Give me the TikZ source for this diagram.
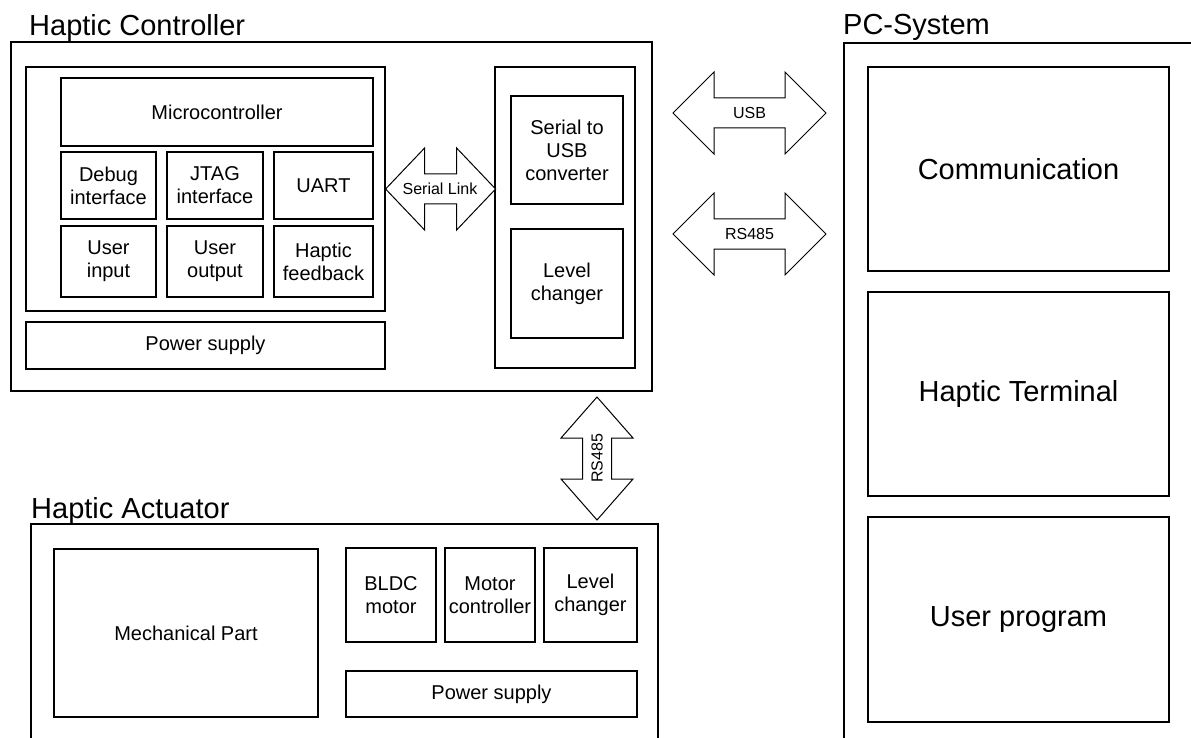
\documentclass[tikz,border=0pt]{standalone}
\usepackage{fontspec}
\setmainfont{Liberation Sans}
\usepackage{tikz}
\usetikzlibrary{positioning}
\newcommand{\fbig}{\fontsize{29}{33}\selectfont}
\newcommand{\fmid}{\fontsize{20}{23}\selectfont}
\newcommand{\fsml}{\fontsize{16}{18}\selectfont}

\begin{document}
\begin{tikzpicture}[x=1pt,y=-1pt,
  blk/.style={draw,line width=1.2pt,inner sep=0pt,align=center,font=\fmid},
  big/.style={blk,font=\fbig},
  grp/.style={draw,line width=1.2pt,inner sep=0pt},
  ttl/.style={anchor=base west,inner sep=0pt,font=\fbig},
  link/.style={draw,line width=1pt,fill=white,line join=miter},
  lbl/.style={inner sep=0pt,font=\fsml}]
  \useasboundingbox (0,0) rectangle (1191,738);

  % haptic controller
  \node[ttl] (hcttl) at (29,36) {Haptic Controller};
  \node[grp,minimum width=641pt,minimum height=349pt] (hc) at (331.5,216.5) {};
  \node[grp,minimum width=359pt,minimum height=244pt] (cpu) at (205.5,189) {};
  \node[blk,minimum width=312pt,minimum height=68pt] (mcu) at (217,112) {Microcontroller};
  \node[blk,minimum width=95pt,minimum height=67pt] (dbg) at (108.5,185.5) {Debug\\interface};
  \node[blk,minimum width=96pt,minimum height=67pt] (jtag) at (215,185.5) {JTAG\\interface};
  \node[blk,minimum width=99pt,minimum height=67pt] (uart) at (323.5,185.5) {UART};
  \node[blk,minimum width=95pt,minimum height=71pt] (uin) at (108.5,261.5) {User\\input};
  \node[blk,minimum width=96pt,minimum height=71pt] (uout) at (215,261.5) {User\\output};
  \node[blk,minimum width=99pt,minimum height=71pt] (hfb) at (323.5,261.5) {Haptic\\feedback};
  \node[blk,minimum width=359pt,minimum height=47pt] (psc) at (205.5,345.5) {Power supply};
  \node[grp,minimum width=140pt,minimum height=301pt] (conv) at (565,217.5) {};
  \node[blk,minimum width=112pt,minimum height=108pt] (s2u) at (567,150) {Serial to\\USB\\converter};
  \node[blk,minimum width=112pt,minimum height=109pt] (lvlc) at (567,283.5) {Level\\changer};

  % serial link between the two groups
  \draw[link] (cpu.east) -- ++(39,-41) -- ++(0,26) -- ++(32,0) -- ++(0,-26) -- ++(39,41)
    -- ++(-39,41) -- ++(0,-26) -- ++(-32,0) -- ++(0,26) -- cycle;
  \node[lbl] (serlbl) at (440,189) {Serial Link};

  % pc system (open on the right and below)
  \node[ttl] (pcttl) at (843,35) {PC-System};
  \coordinate (pcbl) at (844,738);
  \coordinate (pctl) at (844,43);
  \coordinate (pctr) at (1191,43);
  \draw[line width=1.2pt] (pcbl) -- (pctl) -- (pctr);
  \node[big,minimum width=301pt,minimum height=204pt] (com) at (1018.5,169) {Communication};
  \node[big,minimum width=301pt,minimum height=204pt] (term) at (1018.5,394) {Haptic Terminal};
  \node[big,minimum width=301pt,minimum height=205pt] (prog) at (1018.5,619.5) {User program};

  % links to the pc
  \foreach \y/\t in {113/USB,234/RS485}
    { \draw[link] (673,\y) -- ++(41,-41) -- ++(0,26) -- ++(71,0) -- ++(0,-26) -- ++(41,41)
        -- ++(-41,41) -- ++(0,-26) -- ++(-71,0) -- ++(0,26) -- cycle;
      \node[lbl] (pc-\y) at (749.5,\y) {\t}; }

  % link to the actuator
  \draw[link] (597,397) -- ++(36,41) -- ++(-21.5,0) -- ++(0,41) -- ++(21.5,0) -- ++(-36,41)
    -- ++(-36,-41) -- ++(21.5,0) -- ++(0,-41) -- ++(-21.5,0) -- cycle;
  \node[lbl,rotate=90] (actlbl) at (597,458.5) {RS485};

  % haptic actuator (open below)
  \node[ttl] (hattl) at (31,518) {Haptic Actuator};
  \coordinate (habl) at (31,738);
  \coordinate (hatl) at (31,524);
  \coordinate (hatr) at (658,524);
  \coordinate (habr) at (658,738);
  \draw[line width=1.2pt] (habl) -- (hatl) -- (hatr) -- (habr);
  \node[blk,minimum width=264pt,minimum height=168pt] (mech) at (186,633) {Mechanical Part};
  \node[blk,minimum width=90pt,minimum height=94pt] (bldc) at (391,595) {BLDC\\motor};
  \node[blk,minimum width=90pt,minimum height=94pt] (mctl) at (490,595) {Motor\\controller};
  \node[blk,minimum width=93pt,minimum height=94pt] (lvla) at (590.5,595) {Level\\changer};
  \node[blk,minimum width=291pt,minimum height=46pt] (psa) at (491.5,694) {Power supply};
\end{tikzpicture}
\end{document}
